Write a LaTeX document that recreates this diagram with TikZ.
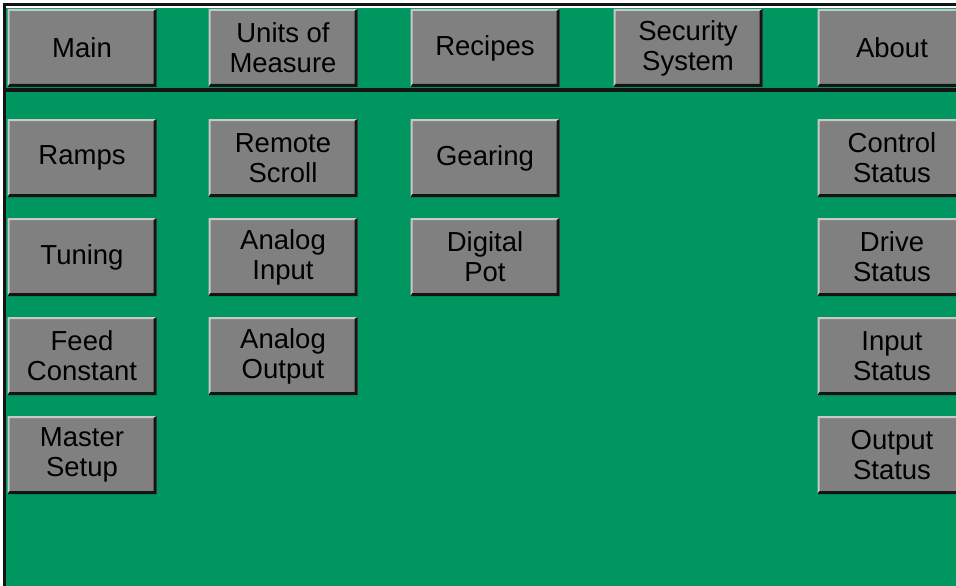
\documentclass[tikz,border=0pt]{standalone}
\usepackage{fontspec}
\setmainfont{Liberation Sans}

\definecolor{panelgreen}{RGB}{0,150,96}
\definecolor{btngray}{RGB}{128,128,128}
\definecolor{btnlight}{RGB}{200,200,200}
\definecolor{edgedark}{RGB}{20,20,20}

\tikzset{
  btn/.style={rectangle, fill=btngray, minimum width=149pt, minimum height=78pt,
    inner sep=0pt, align=center, text=black, font=\fontsize{27.5}{30}\selectfont,
    path picture={
      % light bevel on top and left
      \fill[btnlight] (path picture bounding box.north west) -- (path picture bounding box.north east)
        -- ([xshift=-3pt,yshift=-2pt]path picture bounding box.north east)
        -- ([xshift=2pt,yshift=-2pt]path picture bounding box.north west)
        -- ([xshift=2pt,yshift=3pt]path picture bounding box.south west)
        -- (path picture bounding box.south west) -- cycle;
      % dark bevel on bottom and right
      \fill[edgedark] (path picture bounding box.north east) -- (path picture bounding box.south east)
        -- (path picture bounding box.south west)
        -- ([xshift=2pt,yshift=3pt]path picture bounding box.south west)
        -- ([xshift=-3pt,yshift=3pt]path picture bounding box.south east)
        -- ([xshift=-3pt,yshift=-2pt]path picture bounding box.north east) -- cycle;
    }}
}

\begin{document}
\begin{tikzpicture}[x=1pt, y=-1pt]
  % Page frame
  \useasboundingbox (0,0) rectangle (956,586);
  \clip (0,0) rectangle (956,586);
  \fill[white] (0,0) rectangle (956,586);
  \fill[panelgreen] (6,8) rectangle (956,586);
  \draw[edgedark, line width=3pt] (4.5,586) -- (4.5,4.5) -- (956,4.5);

  % Top menu row
  \node[btn] (main) at (82,48) {Main};
  \node[btn] (units) at (283,48) {Units of\\Measure};
  \node[btn] (recipes) at (485,48) {Recipes};
  \node[btn] (security) at (688,48) {Security\\System};
  \node[btn] (about) at (892,48) {About};

  % Separator under the menu
  \draw[edgedark, line width=3.5pt] (6,90) -- (956,90);

  % First column
  \node[btn] (ramps) at (82,158) {Ramps};
  \node[btn] (tuning) at (82,257) {Tuning};
  \node[btn] (feed) at (82,356) {Feed\\Constant};
  \node[btn] (master) at (82,455) {Master\\Setup};

  % Second column
  \node[btn] (scroll) at (283,158) {Remote\\Scroll};
  \node[btn] (ainput) at (283,257) {Analog\\Input};
  \node[btn] (aoutput) at (283,356) {Analog\\Output};

  % Third column
  \node[btn] (gearing) at (485,158) {Gearing};
  \node[btn] (pot) at (485,257) {Digital\\Pot};

  % Status column
  \node[btn] (control) at (892,158) {Control\\Status};
  \node[btn] (drive) at (892,257) {Drive\\Status};
  \node[btn] (input) at (892,356) {Input\\Status};
  \node[btn] (output) at (892,455) {Output\\Status};
\end{tikzpicture}
\end{document}
